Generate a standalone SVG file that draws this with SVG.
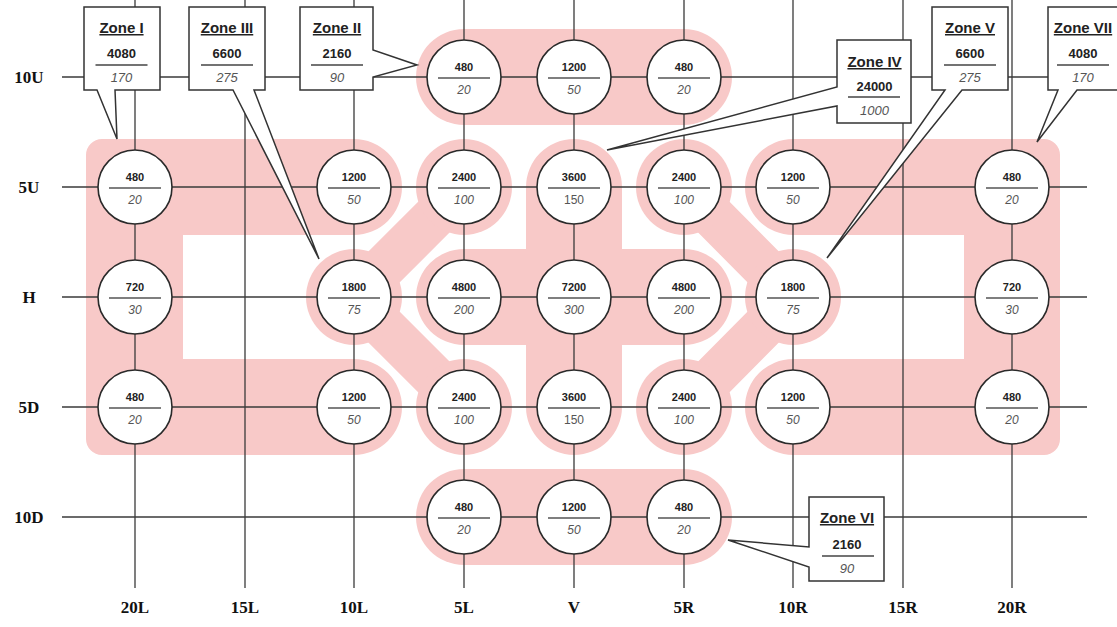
<svg xmlns="http://www.w3.org/2000/svg" width="1117" height="627" viewBox="0 0 1117 627">
<defs>
<style>
.pink{fill:#f8c9c8}
.pband{stroke:#f8c9c8;fill:none;stroke-linecap:round}
.grid line{stroke:#3a3a3a;stroke-width:1.3}
.node circle{fill:#fff;stroke:#2a2a2a;stroke-width:1.6}
.node line{stroke:#555;stroke-width:1.5}
.num{font-family:"Liberation Sans",Arial,sans-serif;font-weight:bold;font-size:11px;fill:#222;text-anchor:middle}
.sub{font-family:"Liberation Sans",Arial,sans-serif;font-style:italic;font-size:12px;fill:#555;text-anchor:middle}
.up{font-style:normal}
.axis{font-family:"Liberation Serif","Times New Roman",serif;font-weight:bold;font-size:17px;fill:#111;text-anchor:middle}
.callout path{fill:#fff;stroke:#333;stroke-width:1.5}
.callout line{stroke:#444;stroke-width:1.5}
.zt{font-family:"Liberation Sans",Arial,sans-serif;font-weight:bold;font-size:15px;fill:#222;text-anchor:middle;text-decoration:underline}
.zn{font-family:"Liberation Sans",Arial,sans-serif;font-weight:bold;font-size:13px;fill:#222;text-anchor:middle}
.zs{font-family:"Liberation Sans",Arial,sans-serif;font-style:italic;font-size:13px;fill:#555;text-anchor:middle}
</style>
</defs>
<rect width="1117" height="627" fill="#fff"/>

<g id="zones">
  <path id="zone-I" class="pink" d="M354,139 H102 A16,16 0 0 0 86,155 V439 A16,16 0 0 0 102,455 H354 A48,48 0 0 0 354,359 H183 V235 H354 A48,48 0 0 0 354,139 Z"/>
  <path id="zone-VII" class="pink" d="M793,139 H1044 A16,16 0 0 1 1060,155 V439 A16,16 0 0 1 1044,455 H793 A48,48 0 0 1 793,359 H964 V235 H793 A48,48 0 0 1 793,139 Z"/>
  <rect id="zone-II" class="pink" x="416" y="29" width="316" height="96" rx="48"/>
  <rect id="zone-VI" class="pink" x="416" y="469" width="316" height="96" rx="48"/>
  <path id="zone-IV" class="pband" stroke-width="96" d="M574,187 V407 M464,297 H684"/>
  <g id="zone-III">
    <path class="pband" stroke-width="44" d="M464,187 L354,297 L464,407"/>
    <circle class="pink" cx="354" cy="297" r="48"/>
    <circle class="pink" cx="464" cy="187" r="48"/>
    <circle class="pink" cx="464" cy="407" r="48"/>
  </g>
  <g id="zone-V">
    <path class="pband" stroke-width="44" d="M684,187 L793,297 L684,407"/>
    <circle class="pink" cx="793" cy="297" r="48"/>
    <circle class="pink" cx="684" cy="187" r="48"/>
    <circle class="pink" cx="684" cy="407" r="48"/>
  </g>
</g>

<g id="connectors" class="grid">
  <line x1="135" y1="0" x2="135" y2="588"/>
  <line x1="245" y1="0" x2="245" y2="588"/>
  <line x1="354" y1="0" x2="354" y2="588"/>
  <line x1="464" y1="0" x2="464" y2="588"/>
  <line x1="574" y1="0" x2="574" y2="588"/>
  <line x1="684" y1="0" x2="684" y2="588"/>
  <line x1="793" y1="0" x2="793" y2="588"/>
  <line x1="903" y1="0" x2="903" y2="588"/>
  <line x1="1012" y1="0" x2="1012" y2="588"/>
  <line x1="62" y1="77" x2="1087" y2="77"/>
  <line x1="62" y1="187" x2="1087" y2="187"/>
  <line x1="62" y1="297" x2="1087" y2="297"/>
  <line x1="62" y1="407" x2="1087" y2="407"/>
  <line x1="62" y1="517" x2="1087" y2="517"/>
</g>

<g id="axis-labels">
  <text class="axis" x="29" y="83">10U</text>
  <text class="axis" x="29" y="193">5U</text>
  <text class="axis" x="29" y="303">H</text>
  <text class="axis" x="29" y="413">5D</text>
  <text class="axis" x="29" y="523">10D</text>
  <text class="axis" x="135" y="613">20L</text>
  <text class="axis" x="245" y="613">15L</text>
  <text class="axis" x="354" y="613">10L</text>
  <text class="axis" x="464" y="613">5L</text>
  <text class="axis" x="574" y="613">V</text>
  <text class="axis" x="684" y="613">5R</text>
  <text class="axis" x="793" y="613">10R</text>
  <text class="axis" x="903" y="613">15R</text>
  <text class="axis" x="1012" y="613">20R</text>
</g>

<g id="nodes">
  <g id="n-10U-5L" class="node" transform="translate(464,77)"><circle r="37"/><line x1="-26" y1="1" x2="26" y2="1"/><text class="num" y="-6">480</text><text class="sub" y="16.5">20</text></g>
  <g id="n-10U-V" class="node" transform="translate(574,77)"><circle r="37"/><line x1="-26" y1="1" x2="26" y2="1"/><text class="num" y="-6">1200</text><text class="sub" y="16.5">50</text></g>
  <g id="n-10U-5R" class="node" transform="translate(684,77)"><circle r="37"/><line x1="-26" y1="1" x2="26" y2="1"/><text class="num" y="-6">480</text><text class="sub" y="16.5">20</text></g>

  <g id="n-5U-20L" class="node" transform="translate(135,187)"><circle r="37"/><line x1="-26" y1="1" x2="26" y2="1"/><text class="num" y="-6">480</text><text class="sub" y="16.5">20</text></g>
  <g id="n-5U-10L" class="node" transform="translate(354,187)"><circle r="37"/><line x1="-26" y1="1" x2="26" y2="1"/><text class="num" y="-6">1200</text><text class="sub" y="16.5">50</text></g>
  <g id="n-5U-5L" class="node" transform="translate(464,187)"><circle r="37"/><line x1="-26" y1="1" x2="26" y2="1"/><text class="num" y="-6">2400</text><text class="sub" y="16.5">100</text></g>
  <g id="n-5U-V" class="node" transform="translate(574,187)"><circle r="37"/><line x1="-26" y1="1" x2="26" y2="1"/><text class="num" y="-6">3600</text><text class="sub up" y="16.5">150</text></g>
  <g id="n-5U-5R" class="node" transform="translate(684,187)"><circle r="37"/><line x1="-26" y1="1" x2="26" y2="1"/><text class="num" y="-6">2400</text><text class="sub" y="16.5">100</text></g>
  <g id="n-5U-10R" class="node" transform="translate(793,187)"><circle r="37"/><line x1="-26" y1="1" x2="26" y2="1"/><text class="num" y="-6">1200</text><text class="sub" y="16.5">50</text></g>
  <g id="n-5U-20R" class="node" transform="translate(1012,187)"><circle r="37"/><line x1="-26" y1="1" x2="26" y2="1"/><text class="num" y="-6">480</text><text class="sub" y="16.5">20</text></g>

  <g id="n-H-20L" class="node" transform="translate(135,297)"><circle r="37"/><line x1="-26" y1="1" x2="26" y2="1"/><text class="num" y="-6">720</text><text class="sub" y="16.5">30</text></g>
  <g id="n-H-10L" class="node" transform="translate(354,297)"><circle r="37"/><line x1="-26" y1="1" x2="26" y2="1"/><text class="num" y="-6">1800</text><text class="sub" y="16.5">75</text></g>
  <g id="n-H-5L" class="node" transform="translate(464,297)"><circle r="37"/><line x1="-26" y1="1" x2="26" y2="1"/><text class="num" y="-6">4800</text><text class="sub" y="16.5">200</text></g>
  <g id="n-H-V" class="node" transform="translate(574,297)"><circle r="37"/><line x1="-26" y1="1" x2="26" y2="1"/><text class="num" y="-6">7200</text><text class="sub" y="16.5">300</text></g>
  <g id="n-H-5R" class="node" transform="translate(684,297)"><circle r="37"/><line x1="-26" y1="1" x2="26" y2="1"/><text class="num" y="-6">4800</text><text class="sub" y="16.5">200</text></g>
  <g id="n-H-10R" class="node" transform="translate(793,297)"><circle r="37"/><line x1="-26" y1="1" x2="26" y2="1"/><text class="num" y="-6">1800</text><text class="sub" y="16.5">75</text></g>
  <g id="n-H-20R" class="node" transform="translate(1012,297)"><circle r="37"/><line x1="-26" y1="1" x2="26" y2="1"/><text class="num" y="-6">720</text><text class="sub" y="16.5">30</text></g>

  <g id="n-5D-20L" class="node" transform="translate(135,407)"><circle r="37"/><line x1="-26" y1="1" x2="26" y2="1"/><text class="num" y="-6">480</text><text class="sub" y="16.5">20</text></g>
  <g id="n-5D-10L" class="node" transform="translate(354,407)"><circle r="37"/><line x1="-26" y1="1" x2="26" y2="1"/><text class="num" y="-6">1200</text><text class="sub" y="16.5">50</text></g>
  <g id="n-5D-5L" class="node" transform="translate(464,407)"><circle r="37"/><line x1="-26" y1="1" x2="26" y2="1"/><text class="num" y="-6">2400</text><text class="sub" y="16.5">100</text></g>
  <g id="n-5D-V" class="node" transform="translate(574,407)"><circle r="37"/><line x1="-26" y1="1" x2="26" y2="1"/><text class="num" y="-6">3600</text><text class="sub up" y="16.5">150</text></g>
  <g id="n-5D-5R" class="node" transform="translate(684,407)"><circle r="37"/><line x1="-26" y1="1" x2="26" y2="1"/><text class="num" y="-6">2400</text><text class="sub" y="16.5">100</text></g>
  <g id="n-5D-10R" class="node" transform="translate(793,407)"><circle r="37"/><line x1="-26" y1="1" x2="26" y2="1"/><text class="num" y="-6">1200</text><text class="sub" y="16.5">50</text></g>
  <g id="n-5D-20R" class="node" transform="translate(1012,407)"><circle r="37"/><line x1="-26" y1="1" x2="26" y2="1"/><text class="num" y="-6">480</text><text class="sub" y="16.5">20</text></g>

  <g id="n-10D-5L" class="node" transform="translate(464,517)"><circle r="37"/><line x1="-26" y1="1" x2="26" y2="1"/><text class="num" y="-6">480</text><text class="sub" y="16.5">20</text></g>
  <g id="n-10D-V" class="node" transform="translate(574,517)"><circle r="37"/><line x1="-26" y1="1" x2="26" y2="1"/><text class="num" y="-6">1200</text><text class="sub" y="16.5">50</text></g>
  <g id="n-10D-5R" class="node" transform="translate(684,517)"><circle r="37"/><line x1="-26" y1="1" x2="26" y2="1"/><text class="num" y="-6">480</text><text class="sub" y="16.5">20</text></g>
</g>

<g id="callouts">
  <g id="c-zone-I" class="callout">
    <path d="M84,7 H160 V90 H115 L117,139 L97,90 H84 Z"/>
    <text class="zt" x="121.5" y="33">Zone I</text>
    <text class="zn" x="121.5" y="58">4080</text>
    <line x1="95.5" y1="65" x2="147.5" y2="65"/>
    <text class="zs" x="121.5" y="82">170</text>
  </g>
  <g id="c-zone-III" class="callout">
    <path d="M189,7 H265 V90 H254 L319,259 L233,90 H189 Z"/>
    <text class="zt" x="227" y="33">Zone III</text>
    <text class="zn" x="227" y="58">6600</text>
    <line x1="201" y1="65" x2="253" y2="65"/>
    <text class="zs" x="227" y="82">275</text>
  </g>
  <g id="c-zone-II" class="callout">
    <path d="M300,7 H373 V50 L417,65 L373,77 V90 H300 Z"/>
    <text class="zt" x="337" y="33">Zone II</text>
    <text class="zn" x="337" y="58">2160</text>
    <line x1="311" y1="65" x2="363" y2="65"/>
    <text class="zs" x="337" y="82">90</text>
  </g>
  <g id="c-zone-IV" class="callout">
    <path d="M837,40 H911 V123 H837 V106 L607,150 L837,87 Z"/>
    <text class="zt" x="874.5" y="67">Zone IV</text>
    <text class="zn" x="874.5" y="91" font-size="15">24000</text>
    <line x1="848" y1="97" x2="900" y2="97"/>
    <text class="zs" x="874.5" y="115">1000</text>
  </g>
  <g id="c-zone-V" class="callout">
    <path d="M932,7 H1008 V90 H962 L827,258 L945,90 H932 Z"/>
    <text class="zt" x="970" y="33">Zone V</text>
    <text class="zn" x="970" y="58">6600</text>
    <line x1="944" y1="65" x2="996" y2="65"/>
    <text class="zs" x="970" y="82">275</text>
  </g>
  <g id="c-zone-VII" class="callout">
    <path d="M1048,7 H1124 V90 H1077 L1037,142 L1058,90 H1048 Z"/>
    <text class="zt" x="1083" y="33">Zone VII</text>
    <text class="zn" x="1083" y="58">4080</text>
    <line x1="1057" y1="65" x2="1109" y2="65"/>
    <text class="zs" x="1083" y="82">170</text>
  </g>
  <g id="c-zone-VI" class="callout">
    <path d="M809,497 H884 V581 H809 V567 L728,540 L809,547 Z"/>
    <text class="zt" x="847" y="523">Zone VI</text>
    <text class="zn" x="847" y="549">2160</text>
    <line x1="822" y1="556" x2="874" y2="556"/>
    <text class="zs" x="847" y="573">90</text>
  </g>
</g>
</svg>
